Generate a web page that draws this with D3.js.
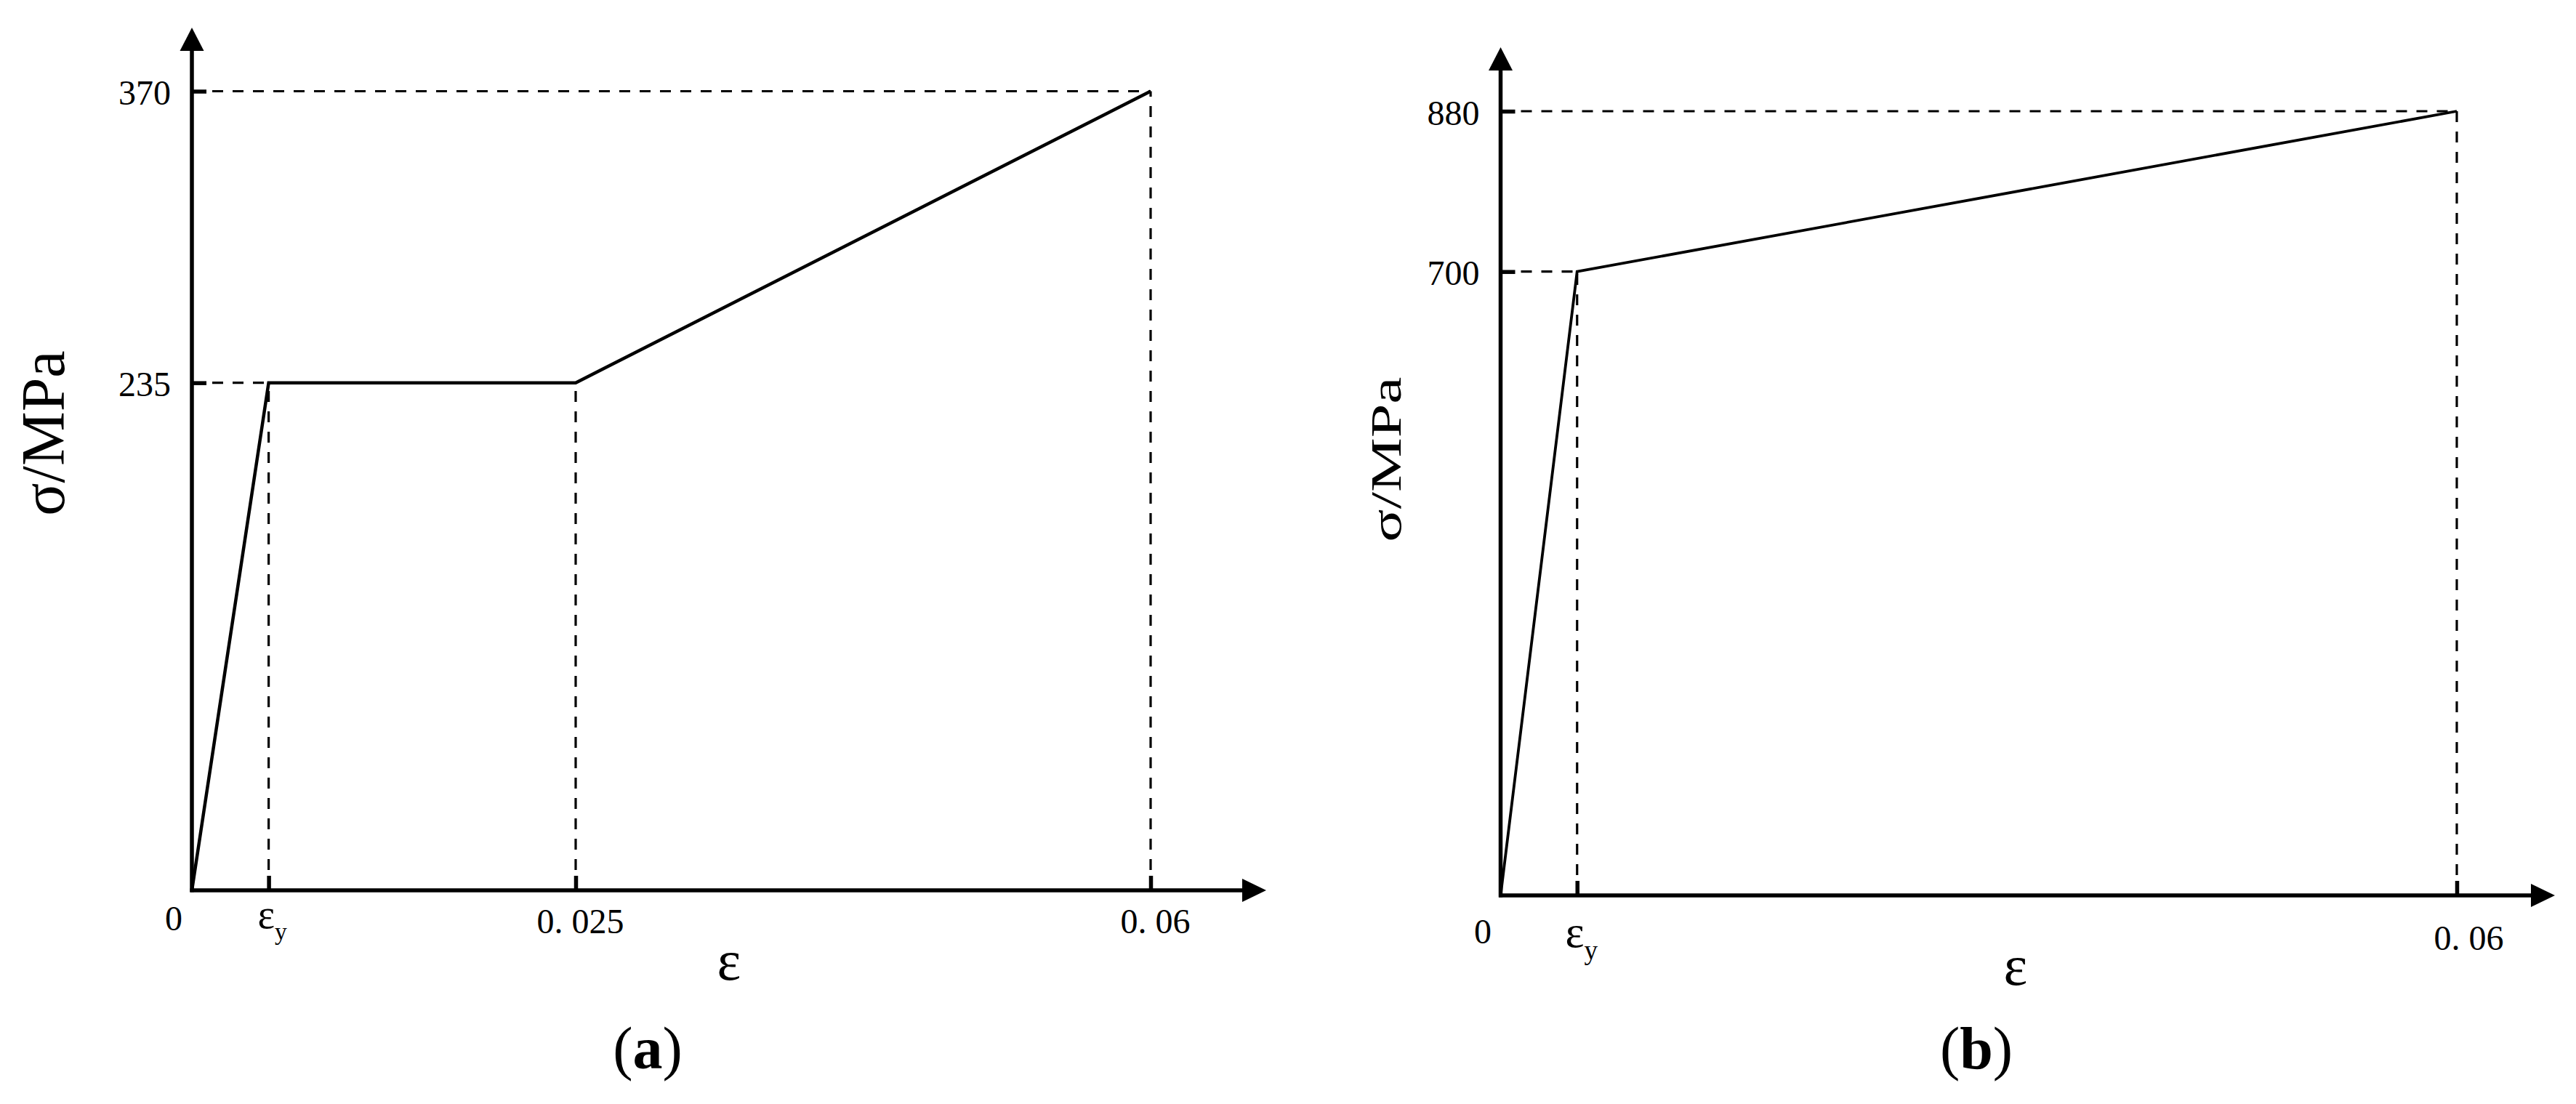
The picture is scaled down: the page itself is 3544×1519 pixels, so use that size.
<!DOCTYPE html>
<html lang="en">
<head>
<meta charset="UTF-8">
<script src="https://cdn.jsdelivr.net/npm/d3@7"></script>
<title>Stress-strain models</title>
<style>
  body { margin: 0; background: #fff; }
</style>
</head>
<body>
<div id="chart"></div>
<script>
// (a) trilinear model, eps_y drawn at a schematic position
const strainA = [0, 0.005, 0.025, 0.06];
const stressA = [0, 235, 235, 370];
const xTicksA = [0.005, 0.025, 0.06];
const xLabelsA = ["ε", "0. 025", "0. 06"];
const yTicksA = [235, 370];

// (b) bilinear model
const strainB = [0, 0.0048, 0.06];
const stressB = [0, 700, 880];
const xTicksB = [0.0048, 0.06];
const xLabelsB = ["ε", "0. 06"];
const yTicksB = [700, 880];

const yTitle = "σ/MPa";
const xTitle = "ε";
const panelNames = ["a", "b"];

const width = 3544, height = 1519;
const font = "'Liberation Serif', 'Times New Roman', serif";

const svg = d3.select("#chart").append("svg")
    .attr("width", width).attr("height", height)
    .style("background", "#fff");

// piecewise x scale for (a): the drawing is schematic, not to scale
const xA = d3.scaleLinear().domain([0, 0.025, 0.06]).range([264, 792, 1583]);
const yA = d3.scaleLinear().domain([0, 370]).range([1225, 125.5]);
const xB = d3.scaleLinear().domain([0, 0.06]).range([2064.5, 3380]);
const yB = d3.scaleLinear().domain([0, 880]).range([1232, 153]);

function drawPanel(p) {
    const g = svg.append("g");
    const x = p.x, y = p.y;
    const x0 = x(0), y0 = y(0);
    const pts = p.strain.map((e, i) => [e, p.stress[i]]);

    // dashed guide lines to each knee
    pts.forEach(([e, s], i) => {
        if (i === 0) return;
        const seen = pts.slice(0, i).some(q => q[1] === s);
        if (!seen) {
            g.append("line")
                .attr("x1", x0).attr("x2", x(e))
                .attr("y1", y(s)).attr("y2", y(s))
                .attr("stroke", "#000").attr("stroke-width", 3.2)
                .attr("stroke-dasharray", "15,13");
        }
        g.append("line")
            .attr("x1", x(e)).attr("x2", x(e))
            .attr("y1", y0).attr("y2", y(s))
            .attr("stroke", "#000").attr("stroke-width", 3.2)
            .attr("stroke-dasharray", "15,13");
    });

    // ticks through d3 axes (pointing inward)
    const ax = g.append("g").attr("transform", `translate(0,${y0})`)
        .call(d3.axisBottom(x).tickValues(p.xTicks).tickSize(-20).tickSizeOuter(0)
            .tickFormat((d, i) => p.xLabels[i]));
    const ay = g.append("g").attr("transform", `translate(${x0},0)`)
        .call(d3.axisLeft(y).tickValues(p.yTicks).tickSize(-20).tickSizeOuter(0)
            .tickPadding(29).tickFormat(d3.format("d")));
    [ax, ay].forEach(a => {
        a.select(".domain").remove();
        a.attr("font-family", font).attr("font-size", 48);
        a.selectAll(".tick line").attr("stroke", "#000").attr("stroke-width", 5.5);
        a.selectAll("text").attr("fill", "#000");
    });
    ay.selectAll("text").attr("dy", "0.38em");
    ax.selectAll("text")
        .attr("y", p.xLabelY).attr("dy", null).attr("dx", p.xLabelDx);
    // eps_y label with subscript (tick groups are translated to the tick x)
    const ey = ax.selectAll("text").filter(d => d === p.xTicks[0]);
    ey.attr("text-anchor", "start").attr("dx", null)
        .attr("x", p.epsX - x(p.xTicks[0])).attr("y", p.epsY).attr("font-size", p.epsSize);
    ey.append("tspan").attr("font-size", p.epsSize * 0.6).attr("dy", p.epsSize * 0.28).text("y");

    // axis lines with arrow heads
    g.append("line").attr("x1", x0).attr("x2", x0).attr("y1", y0 + 2.5).attr("y2", p.yTip + 30)
        .attr("stroke", "#000").attr("stroke-width", 5.5);
    g.append("line").attr("x1", x0 - 2.5).attr("x2", p.xTip - 31).attr("y1", y0).attr("y2", y0)
        .attr("stroke", "#000").attr("stroke-width", 5.5);
    g.append("path")
        .attr("d", `M${x0},${p.yTip}L${x0 - 16.5},${p.yTip + 32}L${x0 + 16.5},${p.yTip + 32}Z`)
        .attr("fill", "#000");
    g.append("path")
        .attr("d", `M${p.xTip},${y0}L${p.xTip - 33},${y0 - 16}L${p.xTip - 33},${y0 + 16}Z`)
        .attr("fill", "#000");

    // stress-strain curve
    const line = d3.line().x(d => x(d[0])).y(d => y(d[1]));
    g.append("path").datum(pts)
        .attr("d", line)
        .attr("fill", "none").attr("stroke", "#000")
        .attr("stroke-width", p.curveWidth).attr("stroke-linejoin", "miter");

    // origin label
    g.append("text").attr("x", p.zeroX).attr("y", p.zeroY)
        .attr("text-anchor", "middle").attr("font-family", font).attr("font-size", 48)
        .text("0");

    // axis titles
    g.append("text")
        .attr("transform", `translate(${p.yTitleX},${p.yTitleY}) rotate(-90) scale(1,${p.yTitleSquash})`)
        .attr("text-anchor", "middle").attr("font-family", font).attr("font-size", 84)
        .text(yTitle);
    g.append("text").attr("x", p.xTitleX).attr("y", p.xTitleY)
        .attr("text-anchor", "middle").attr("font-family", font).attr("font-size", 78)
        .text(xTitle);

    // panel tag
    const tag = g.append("text").attr("x", p.tagX).attr("y", 1470)
        .attr("text-anchor", "middle").attr("font-family", font).attr("font-size", 82);
    tag.append("tspan").text("(");
    tag.append("tspan").attr("font-weight", "bold").text(p.name);
    tag.append("tspan").text(")");
}

drawPanel({
    name: panelNames[0], x: xA, y: yA,
    strain: strainA, stress: stressA,
    xTicks: xTicksA, xLabels: xLabelsA, yTicks: yTicksA,
    xLabelY: 59, xLabelDx: 6, curveWidth: 4.5,
    epsX: 354, epsY: 52, epsSize: 56,
    yTip: 38, xTip: 1742,
    zeroX: 239, zeroY: 1280,
    yTitleX: 88, yTitleY: 596, yTitleSquash: 1,
    xTitleX: 1003, xTitleY: 1348,
    tagX: 891
});

drawPanel({
    name: panelNames[1], x: xB, y: yB,
    strain: strainB, stress: stressB,
    xTicks: xTicksB, xLabels: xLabelsB, yTicks: yTicksB,
    xLabelY: 75, xLabelDx: 16, curveWidth: 3.8,
    epsX: 2153, epsY: 71, epsSize: 62,
    yTip: 65, xTip: 3515,
    zeroX: 2040, zeroY: 1298,
    yTitleX: 1927, yTitleY: 632, yTitleSquash: 0.7,
    xTitleX: 2773, xTitleY: 1355,
    tagX: 2719
});
</script>
</body>
</html>
